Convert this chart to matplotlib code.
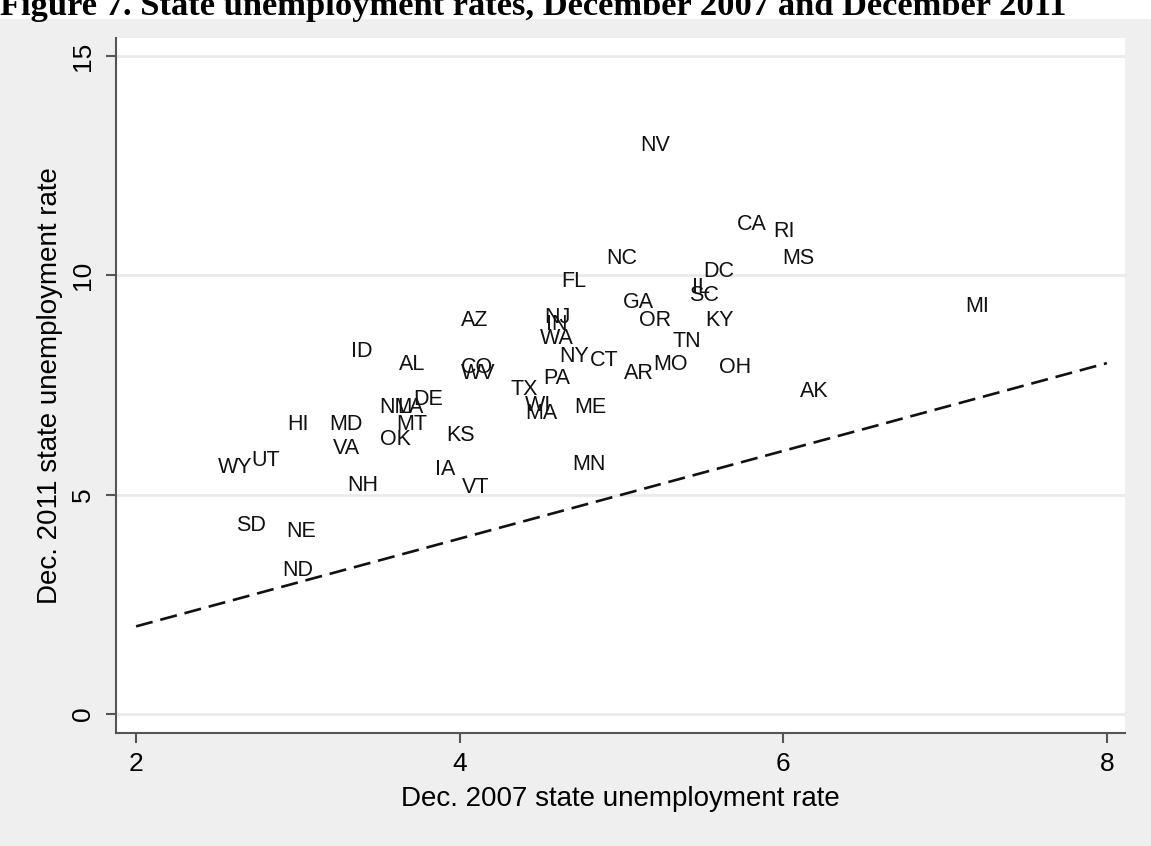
import matplotlib.pyplot as plt
from matplotlib.patches import Rectangle

plt.rcParams['font.family'] = ['Liberation Sans', 'DejaVu Sans']

states = ['NV', 'CA', 'RI', 'MS', 'NC', 'DC', 'FL', 'IL', 'SC', 'GA',
          'OR', 'KY', 'NJ', 'IN', 'AZ', 'WA', 'TN', 'ID', 'NY', 'CT',
          'AL', 'MO', 'CO', 'WV', 'AR', 'OH', 'PA', 'AK', 'TX', 'DE',
          'NM', 'LA', 'WI', 'MA', 'ME', 'MT', 'MD', 'HI', 'OK', 'VA',
          'KS', 'UT', 'WY', 'IA', 'VT', 'MN', 'NH', 'SD', 'NE', 'ND', 'MI']
rate_2007 = [5.09, 5.69, 5.91, 5.97, 4.88, 5.48, 4.60, 5.41, 5.39, 4.98,
             5.08, 5.49, 4.50, 4.51, 3.98, 4.47, 5.29, 3.30, 4.59, 4.78,
             3.60, 5.17, 3.98, 3.98, 4.99, 5.58, 4.49, 6.08, 4.29, 3.69,
             3.48, 3.59, 4.38, 4.38, 4.68, 3.58, 3.17, 2.91, 3.48, 3.19,
             3.89, 2.69, 2.48, 3.82, 3.99, 4.67, 3.28, 2.59, 2.90, 2.88, 7.10]
rate_2011 = [12.97, 11.17, 10.99, 10.39, 10.39, 10.08, 9.87, 9.73, 9.55, 9.39,
             8.98, 8.98, 9.05, 8.87, 8.98, 8.57, 8.50, 8.27, 8.16, 8.07,
             7.98, 7.98, 7.91, 7.77, 7.77, 7.89, 7.66, 7.36, 7.39, 7.16,
             6.98, 6.98, 7.04, 6.86, 6.98, 6.59, 6.59, 6.59, 6.25, 6.06,
             6.36, 5.77, 5.61, 5.58, 5.17, 5.68, 5.20, 4.29, 4.17, 3.28, 9.28]

line_x = [2, 8]
x_ticks = [2, 4, 6, 8]
y_ticks = [0, 5, 10, 15]

fig = plt.figure(figsize=(11.51, 8.46), dpi=100, facecolor='white')
# grey outer region below the title
fig.patches.append(Rectangle((0, 0), 1, 1 - 19 / 846, transform=fig.transFigure,
                             facecolor='#efefef', edgecolor='none', zorder=-5))
fig.text(0.0, 1 - 15 / 846, 'Figure 7. State unemployment rates, December 2007 and December 2011',
         family='Liberation Serif', fontweight='bold', fontsize=24.8, va='baseline', ha='left')

ax = fig.add_axes([116 / 1151, 113 / 846, (1125 - 116) / 1151, (733 - 38) / 846])
ax.set_facecolor('white')

for s, x, y in zip(states, rate_2007, rate_2011):
    ax.annotate(s, (x, y), xytext=(3, 0), textcoords='offset points',
                ha='left', va='center', fontsize=15.5, color='#111111')

ax.plot(line_x, line_x, color='#111111', linestyle=(0, (6.5, 3)), linewidth=1.9)

ax.set_xlim(1.876, 8.112)
ax.set_ylim(-0.43, 15.41)
ax.set_xticks(x_ticks)
ax.set_yticks(y_ticks)
ax.set_yticklabels([str(t) for t in y_ticks], rotation=90, va='center')
ax.grid(axis='y', color='#eaeaea', linewidth=2)
ax.set_axisbelow(True)

for side in ['top', 'right']:
    ax.spines[side].set_visible(False)
for side in ['left', 'bottom']:
    ax.spines[side].set_color('#555555')
    ax.spines[side].set_linewidth(1.5)
ax.tick_params(length=7, width=1.5, color='#555555', labelsize=19)
ax.tick_params(axis='x', pad=7)
ax.tick_params(axis='y', pad=8)

ax.set_xlabel('Dec. 2007 state unemployment rate', fontsize=20, labelpad=7)
ax.set_ylabel('Dec. 2011 state unemployment rate', fontsize=20, labelpad=6)

fig.savefig('out.png', dpi=100, facecolor=fig.get_facecolor())
